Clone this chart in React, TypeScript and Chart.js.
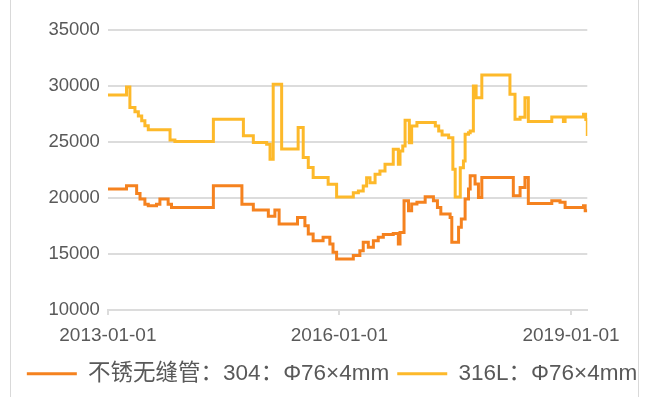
import React, { useEffect, useRef } from "react";
import { Chart, registerables } from "chart.js";

Chart.register(...registerables);

const seriesNames = ["不锈无缝管：304：Φ76×4mm", "316L：Φ76×4mm"];
const seriesColors = ["#F5821F", "#FDB92A"];

const xTickLabels = ["2013-01-01", "2016-01-01", "2019-01-01"];
const xMin = "2013-01-01";
const xMax = "2019-03-19";
const yTicks = [10000, 15000, 20000, 25000, 30000, 35000];

const dates304 = [
  "2013-01-01", "2013-03-30", "2013-05-17", "2013-06-02", "2013-06-25", "2013-07-11",
  "2013-08-19", "2013-09-04", "2013-10-13", "2013-10-29", "2014-05-15", "2014-09-27",
  "2014-11-20", "2015-01-30", "2015-03-02", "2015-03-22", "2015-06-17", "2015-07-22",
  "2015-08-07", "2015-08-30", "2015-10-16", "2015-11-17", "2015-12-02", "2015-12-19",
  "2016-03-07", "2016-04-07", "2016-04-23", "2016-05-17", "2016-06-10", "2016-07-03",
  "2016-07-27", "2016-09-12", "2016-10-06", "2016-10-14", "2016-11-02", "2016-11-23",
  "2016-12-08", "2017-01-02", "2017-02-10", "2017-03-21", "2017-04-09", "2017-04-25",
  "2017-06-08", "2017-06-16", "2017-07-18", "2017-07-31", "2017-08-18", "2017-09-03",
  "2017-09-11", "2017-10-04", "2017-10-20", "2017-11-05", "2018-04-03", "2018-05-05",
  "2018-05-28", "2018-06-13", "2018-10-02", "2018-11-10", "2018-12-04", "2019-03-01",
  "2019-03-09", "2019-03-19",
];
const values304 = [
  20800, 21100, 20400, 19900, 19450, 19300,
  19450, 19900, 19450, 19150, 21100, 19450,
  18930, 18360, 18930, 17680, 18270, 17530,
  16790, 16190, 16490, 15900, 15150, 14560,
  14860, 15300, 16040, 15600, 16190, 16490,
  16730, 16840, 15900, 16930, 19760, 18870,
  19460, 19610, 20120, 19760, 19160, 18570,
  18270, 16040, 17380, 18130, 19910, 20800,
  21990, 21250, 20050, 21840, 20200, 20940,
  21840, 19520, 19760, 19610, 19160, 19310,
  18870, 18870,
];

const dates316 = [
  "2013-01-01", "2013-03-30", "2013-04-15", "2013-05-09", "2013-05-25", "2013-06-10",
  "2013-06-25", "2013-07-11", "2013-10-22", "2013-11-14", "2014-05-15", "2014-10-04",
  "2014-11-20", "2015-01-22", "2015-02-07", "2015-02-22", "2015-04-03", "2015-06-20",
  "2015-07-14", "2015-08-07", "2015-08-30", "2015-11-09", "2015-12-19", "2016-03-07",
  "2016-03-31", "2016-04-23", "2016-05-09", "2016-05-25", "2016-06-18", "2016-07-11",
  "2016-08-04", "2016-09-12", "2016-10-06", "2016-10-14", "2016-10-27", "2016-11-07",
  "2016-11-27", "2016-12-08", "2017-01-02", "2017-03-30", "2017-04-15", "2017-05-01",
  "2017-06-01", "2017-06-21", "2017-07-02", "2017-07-26", "2017-08-10", "2017-08-18",
  "2017-09-03", "2017-09-11", "2017-09-26", "2017-10-09", "2017-11-05", "2018-03-18",
  "2018-04-11", "2018-05-05", "2018-05-28", "2018-06-13", "2018-10-02", "2018-11-26",
  "2018-12-04", "2019-03-01", "2019-03-12", "2019-03-19",
];
const values316 = [
  29200, 29900, 28080, 27700, 27330, 26890,
  26440, 26090, 25170, 25040, 27040, 25550,
  24960, 24800, 23470, 30160, 24370, 26290,
  23620, 22730, 21840, 21220, 20090, 20470,
  20620, 21070, 21810, 21370, 22120, 22410,
  23010, 24350, 23010, 24200, 24640, 26940,
  24940, 26430, 26730, 26430, 25980, 25620,
  25380, 22560, 20090, 22710, 23300, 25690,
  25830, 25980, 30000, 28960, 30980, 29260,
  27030, 27200, 28960, 26820, 27230, 26820,
  27230, 27470, 27000, 25540,
];

function ts(s: string): number {
  const [y, m, d] = s.split("-").map(Number);
  return Date.UTC(y, m - 1, d);
}

function toPoints(dates: string[], values: number[]) {
  return dates.map((d, i) => ({ x: ts(d), y: values[i] }));
}

const FONT = '"Liberation Sans", Arial, "Noto Sans CJK SC", sans-serif';
const GRID = "#dcdcdc";
const TEXT = "#595959";
const PAD_LEFT = 15;

export default function App() {
  const ref = useRef<HTMLCanvasElement | null>(null);

  useEffect(() => {
    if (!ref.current) return;
    const chart = new Chart(ref.current, {
      type: "line",
      data: {
        datasets: [
          {
            label: seriesNames[0],
            data: toPoints(dates304, values304),
            borderColor: seriesColors[0],
            backgroundColor: seriesColors[0],
            borderWidth: 3,
            pointRadius: 0,
            stepped: true,
            fill: false,
          },
          {
            label: seriesNames[1],
            data: toPoints(dates316, values316),
            borderColor: seriesColors[1],
            backgroundColor: seriesColors[1],
            borderWidth: 3,
            pointRadius: 0,
            stepped: true,
            fill: false,
          },
        ],
      },
      options: {
        responsive: false,
        animation: false,
        devicePixelRatio: 1,
        layout: { padding: { left: PAD_LEFT, right: 0, top: 30, bottom: 2 } },
        scales: {
          x: {
            type: "linear",
            min: ts(xMin),
            max: ts(xMax),
            afterBuildTicks: (scale: any) => {
              scale.ticks = xTickLabels.map((l) => ({ value: ts(l) }));
            },
            afterFit: (scale: any) => {
              scale.height = 44.5;
            },
            ticks: {
              color: TEXT,
              font: { family: FONT, size: 19 },
              padding: 9.5,
              maxRotation: 0,
              autoSkip: false,
              callback: (v: any) => {
                const i = xTickLabels.findIndex((l) => ts(l) === v);
                return i >= 0 ? xTickLabels[i] : "";
              },
            },
            grid: {
              display: true,
              drawOnChartArea: false,
              drawTicks: true,
              tickLength: 5,
              color: GRID,
              lineWidth: 2,
            },
            border: { display: true, color: GRID, width: 2 },
          },
          y: {
            min: 10000,
            max: 35000,
            afterBuildTicks: (scale: any) => {
              scale.ticks = yTicks.map((v) => ({ value: v }));
            },
            afterFit: (scale: any) => {
              scale.width = 107.9 - PAD_LEFT;
            },
            ticks: {
              color: TEXT,
              font: { family: FONT, size: 18.5 },
              padding: 8,
              callback: (v: any) => String(v),
            },
            grid: { color: GRID, lineWidth: 2, drawTicks: false },
            border: { display: false },
          },
          yRight: {
            position: "right",
            min: 10000,
            max: 35000,
            afterFit: (scale: any) => {
              scale.width = 649 - 587.3;
            },
            ticks: { display: false },
            grid: { display: false, drawTicks: false },
            border: { display: false },
          },
        },
        plugins: {
          tooltip: { enabled: false },
          legend: {
            position: "bottom",
            labels: {
              color: TEXT,
              font: { family: FONT, size: 22.5 },
              boxWidth: 50,
              boxHeight: 3,
              padding: 8,
              generateLabels: (c: any) => {
                const items = (Chart.defaults.plugins.legend.labels as any).generateLabels(c);
                items.forEach((it: any) => {
                  it.lineWidth = 0;
                  it.fillStyle = it.strokeStyle;
                });
                return items;
              },
            },
          },
        },
      },
    } as any);
    return () => chart.destroy();
  }, []);

  return (
    <div
      style={{
        position: "absolute",
        left: 0,
        top: 0,
        width: 649,
        height: 397,
        background: "#fff",
        overflow: "hidden",
      }}
    >
      <div
        style={{
          position: "absolute",
          left: 10,
          top: 0,
          width: 627,
          height: 397,
          borderLeft: "1px solid #d9d9d9",
          borderRight: "1px solid #d9d9d9",
        }}
      />
      <canvas ref={ref} width={649} height={397} style={{ position: "absolute", left: 0, top: 0 }} />
    </div>
  );
}
